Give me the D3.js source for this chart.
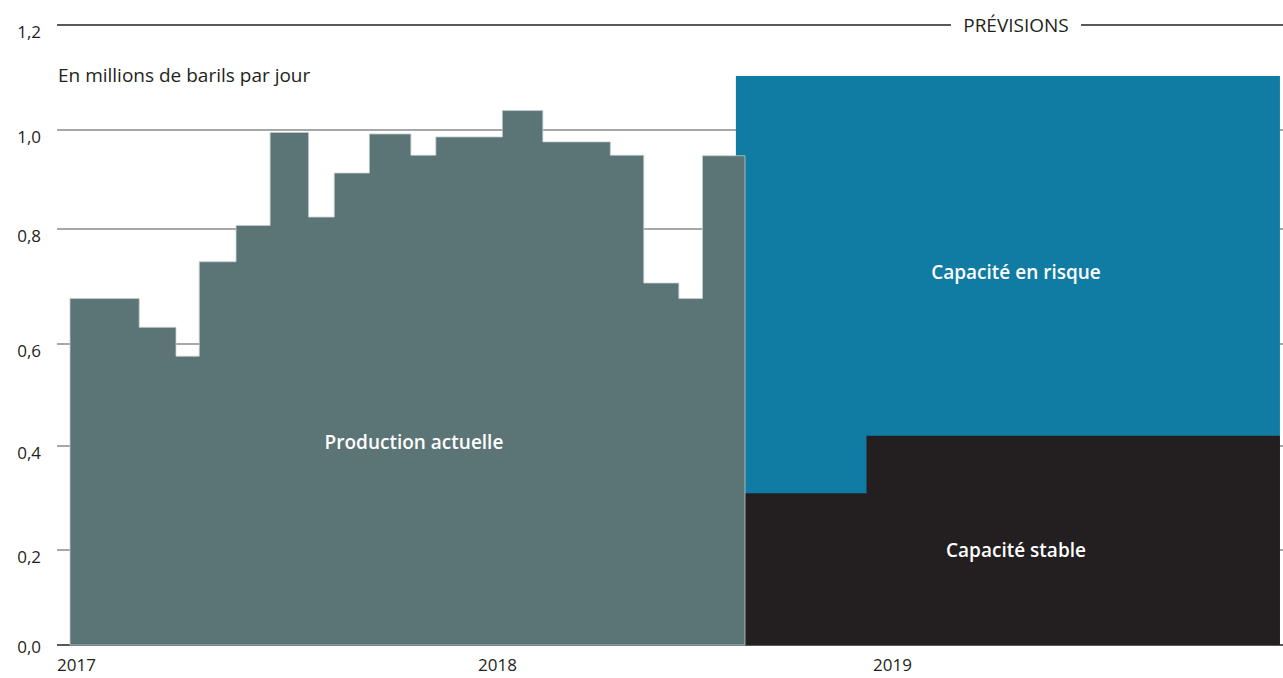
<!DOCTYPE html>
<html lang="fr">
<head>
<meta charset="UTF-8">
<title>Production et capacité</title>
<script src="https://d3js.org/d3.v7.min.js"></script>
<style>
  body { margin: 0; background: #fff; }
  text { font-family: "Open Sans", Lato, sans-serif; fill: #231f20; }
  .tick-label { font-size: 17px; }
  .big { font-size: 19px; }
  .inside { font-size: 19px; font-weight: 600; fill: #fff; text-anchor: middle; }
  .grid line { stroke: #8a8a8a; stroke-width: 1.5px; }
</style>
</head>
<body>
<svg width="1283" height="678"></svg>
<script>
// months counted from January 2017; step edges
var prodStart = [0, 2.05, 3.14, 3.83, 4.92, 5.93, 7.07, 7.83, 8.87, 10.1, 10.84, 12.81, 14.01, 16.01, 17.0, 18.04, 18.74];
var prodValue = [0.679, 0.629, 0.576, 0.743, 0.807, 0.995, 0.824, 0.913, 0.992, 0.949, 0.986, 1.037, 0.976, 0.949, 0.706, 0.679, 0.948];
var prodEnd = 20;

var stableStart = [20, 23.6];
var stableValue = [0.309, 0.42];
var forecastEnd = 35.85;

var riskStart = 19.73;
var riskValue = 1.103;

var yTicks = [0, 0.2, 0.4, 0.6, 0.8, 1.0, 1.2];
var yTickPos = [645, 550, 446, 344, 229, 130, 25];   // uneven spacing of the original grid
var years = ["2017", "2018", "2019"];
var yearNudge = [-13, 3, -7];

var svg = d3.select("svg");
var fmt = function(d) { return d3.format(".1f")(d).replace(".", ","); };

var x = d3.scaleLinear().domain([0, prodEnd]).range([70, 745]);
var y = d3.scaleLinear().domain(yTicks).range(yTickPos);

// grid lines (below 1,2)
var grid = svg.append("g").attr("class", "grid");
grid.selectAll("line")
  .data(yTicks.filter(function(d) { return d < 1.2; }))
  .enter().append("line")
  .attr("x1", 57).attr("x2", 1283)
  .attr("y1", function(d) { return y(d); })
  .attr("y2", function(d) { return y(d); })
  .style("stroke", function(d) { return d === 0 ? "#222" : null; });

// top line with PRÉVISIONS
var topY = y(1.2);
svg.append("line").attr("x1", 57).attr("x2", 951).attr("y1", topY).attr("y2", topY)
  .attr("stroke", "#222").attr("stroke-width", 1.3);
svg.append("line").attr("x1", 1081).attr("x2", 1283).attr("y1", topY).attr("y2", topY)
  .attr("stroke", "#222").attr("stroke-width", 1.3);
svg.append("text").attr("class", "big")
  .attr("x", 1016).attr("y", topY).attr("dy", "0.35em")
  .attr("text-anchor", "middle")
  .text("PRÉVISIONS");

// capacity at risk (blue)
svg.append("rect")
  .attr("x", x(riskStart))
  .attr("y", y(riskValue))
  .attr("width", x(forecastEnd) - x(riskStart))
  .attr("height", y(0) - y(riskValue))
  .attr("fill", "#107ba3");

// stable capacity (black) as one step area
var stablePts = stableStart.map(function(d, i) { return {m: d, v: stableValue[i]}; });
stablePts.push({m: forecastEnd, v: stableValue[stableValue.length - 1]});
var step = d3.area()
  .curve(d3.curveStepAfter)
  .x(function(d) { return x(d.m); })
  .y0(y(0))
  .y1(function(d) { return y(d.v); });
svg.append("path")
  .datum(stablePts)
  .attr("d", step)
  .attr("fill", "#231f20");

// actual production as a step area
var pts = prodStart.map(function(d, i) { return {m: d, v: prodValue[i]}; });
pts.push({m: prodEnd, v: prodValue[prodValue.length - 1]});
svg.append("path")
  .datum(pts)
  .attr("d", step)
  .attr("fill", "#5b7476")
  .attr("stroke", "#c3cdcd")
  .attr("stroke-width", 0.8);

// y labels
svg.selectAll(".ylab")
  .data(yTicks)
  .enter().append("text")
  .attr("class", "tick-label ylab")
  .attr("x", 41)
  .attr("y", function(d) { return y(d) + (d === 0 ? 2 : 7); })
  .attr("dy", "0.35em")
  .attr("text-anchor", "end")
  .text(fmt);

// year labels
svg.selectAll(".xlab")
  .data(years)
  .enter().append("text")
  .attr("class", "tick-label xlab")
  .attr("x", function(d, i) { return x(i * 12) + yearNudge[i]; })
  .attr("y", 671)
  .text(function(d) { return d; });

svg.append("text").attr("class", "big")
  .attr("x", 58).attr("y", 82)
  .text("En millions de barils par jour");

// labels inside the areas
svg.append("text").attr("class", "inside")
  .attr("x", 414).attr("y", 442).attr("dy", "0.35em")
  .text("Production actuelle");
svg.append("text").attr("class", "inside")
  .attr("x", 1016).attr("y", 272).attr("dy", "0.35em")
  .text("Capacité en risque");
svg.append("text").attr("class", "inside")
  .attr("x", 1016).attr("y", 550).attr("dy", "0.35em")
  .text("Capacité stable");
</script>
</body>
</html>
